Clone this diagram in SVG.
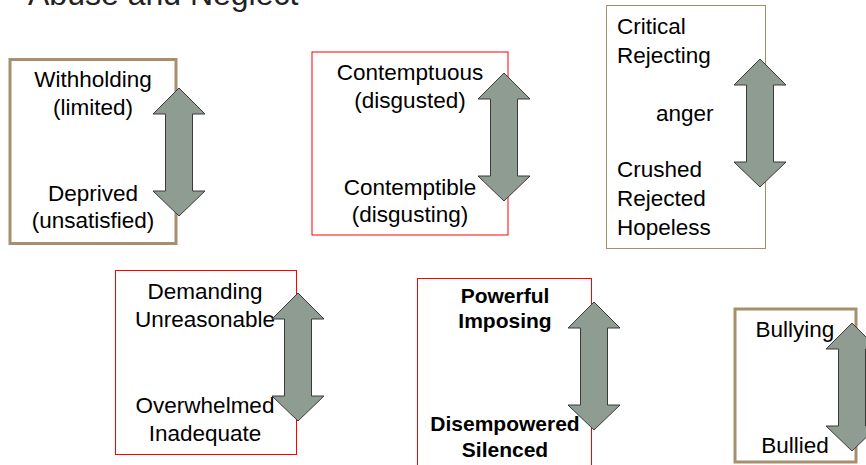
<svg xmlns="http://www.w3.org/2000/svg" width="866" height="465" viewBox="0 0 866 465">
<style>
.t{font-family:"Liberation Sans",Arial,sans-serif;font-size:22.5px;fill:#000;}
.b{font-family:"Liberation Sans",Arial,sans-serif;font-size:21px;font-weight:bold;fill:#000;}
.c{text-anchor:middle;}
.red{fill:#fff;stroke:#ff0000;stroke-width:1;}
.tan{fill:#fff;stroke:#a58f6c;stroke-width:3;}
.tan1{fill:#fff;stroke:#a58f6c;stroke-width:1;}
.arr{fill:#8e9c91;stroke:#3a3a3a;stroke-width:1;}
</style>
<defs>
<path id="arrow" class="arr" d="M0,0 L26,26 L13.5,26 L13.5,103 L26,103 L0,128 L-26,103 L-13.5,103 L-13.5,26 L-26,26 Z"/>
</defs>
<rect width="866" height="465" fill="#fff"/>
<text x="28" y="5" style="font-family:'Liberation Sans',Arial,sans-serif;font-size:32px;fill:#222">Abuse and Neglect</text>
<g id="withholding">
<rect class="tan" x="10" y="59.5" width="166" height="184"/>
<text class="t c" x="93" y="87">Withholding</text>
<text class="t c" x="93" y="115">(limited)</text>
<text class="t c" x="93" y="201">Deprived</text>
<text class="t c" x="93" y="228">(unsatisfied)</text>
</g>
<g id="contemptuous">
<rect class="red" x="312" y="52" width="196" height="183"/>
<text class="t c" x="410" y="80">Contemptuous</text>
<text class="t c" x="410" y="108">(disgusted)</text>
<text class="t c" x="410" y="195">Contemptible</text>
<text class="t c" x="410" y="222">(disgusting)</text>
</g>
<g id="critical">
<rect class="tan1" x="606.5" y="5.5" width="159" height="243"/>
<text class="t" x="617" y="34">Critical</text>
<text class="t" x="617" y="63">Rejecting</text>
<text class="t" x="656" y="121">anger</text>
<text class="t" x="617" y="177">Crushed</text>
<text class="t" x="617" y="206">Rejected</text>
<text class="t" x="617" y="235">Hopeless</text>
</g>
<g id="demanding">
<rect class="red" x="115.5" y="270.5" width="181" height="184"/>
<text class="t c" x="205" y="299">Demanding</text>
<text class="t c" x="205" y="327">Unreasonable</text>
<text class="t c" x="205" y="413">Overwhelmed</text>
<text class="t c" x="205" y="441">Inadequate</text>
</g>
<g id="powerful">
<rect class="red" x="417.5" y="278.5" width="174" height="200"/>
<text class="b c" x="505" y="303">Powerful</text>
<text class="b c" x="505" y="328">Imposing</text>
<text class="b c" x="505" y="431">Disempowered</text>
<text class="b c" x="505" y="457">Silenced</text>
</g>
<g id="bullying">
<rect class="tan" x="735" y="309" width="121" height="153"/>
<text class="t c" x="795" y="337">Bullying</text>
<text class="t c" x="795" y="453">Bullied</text>
</g>
<g id="connectors">
<use href="#arrow" x="179" y="88"/>
<use href="#arrow" x="504" y="73"/>
<use href="#arrow" x="760" y="59"/>
<use href="#arrow" x="298" y="293"/>
<use href="#arrow" x="594" y="302"/>
<use href="#arrow" x="852" y="323"/>
</g>
</svg>
